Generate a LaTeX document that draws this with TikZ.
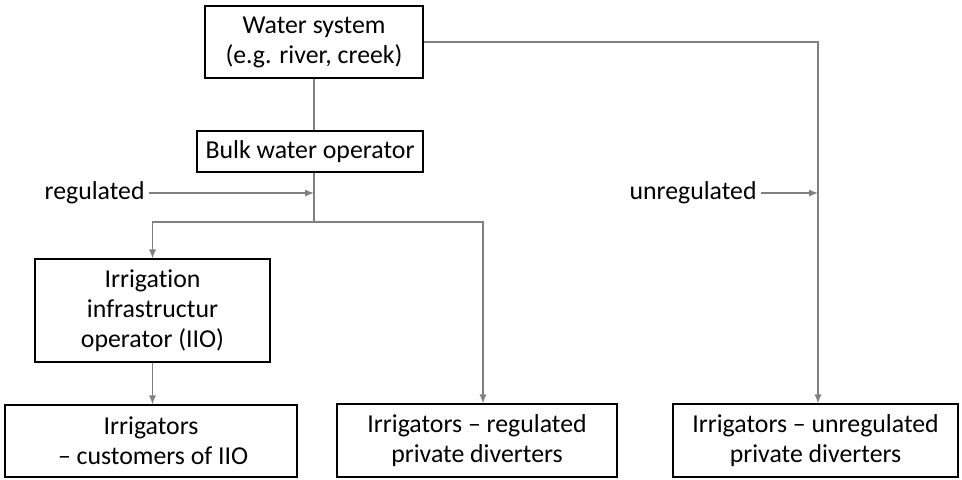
\documentclass[tikz,border=0pt]{standalone}
\usepackage{fontspec}
\setmainfont{Carlito}[Ligatures=CommonOff]
\usetikzlibrary{arrows.meta,positioning,calc}

\definecolor{linegray}{RGB}{128,128,128}

\tikzset{
  box/.style={
    draw=black,
    line width=0.65pt,
    rectangle,
    align=center,
    inner sep=2pt,
    font=\fontsize{12.9}{15}\selectfont
  },
  line/.style={draw=linegray, line width=0.7pt},
  arr/.style={line, -{Latex[length=4.5pt,width=3.6pt]}},
  lab/.style={inner sep=2pt, font=\fontsize{12.9}{15}\selectfont}
}

\begin{document}
\begin{tikzpicture}[x=0.5pt,y=-0.5pt]

  \useasboundingbox (0,0) rectangle (962,479);

  % Boxes
  \node (water) [box, minimum width=109pt, minimum height=36pt] at (314,42)
    {Water system\\(e.g. river, creek)};
  \node (bulk) [box, minimum width=113pt, minimum height=20.5pt] at (310,151.5)
    {Bulk water operator};
  \node (iio) [box, minimum width=117.5pt, minimum height=51.5pt] at (152.5,310.5)
    {Irrigation\\infrastructur\\operator (IIO)};
  \node (cust) [box, minimum width=146pt, minimum height=36pt] at (151,441)
    {Irrigators\\\,-- customers of IIO};
  \node (reg) [box, minimum width=140pt, minimum height=36.5pt] at (477,440.5)
    {Irrigators -- regulated\\private diverters};
  \node (unreg) [box, minimum width=142.5pt, minimum height=36.5pt] at (815.5,440.5)
    {Irrigators -- unregulated\\private diverters};

  % Branch point below the bulk operator
  \coordinate (split) at (314,222);

  % Connectors
  \draw [line] (water.south) -- (water.south |- bulk.north);
  \draw [line] (split |- bulk.south) -- (split);
  \draw [arr] (split) -| (iio.north);
  \draw [arr] (split) -| ([xshift=3pt]reg.north);
  \draw [arr] (water.east) -| ([xshift=1.25pt]unreg.north);
  \draw [arr] (iio.south) -- (iio.south |- cust.north);

  % Labels
  \node (reglab) [lab, anchor=east] at (149,193) {regulated};
  \draw [arr] (reglab.east) -- (split |- reglab.east);

  \node (unreglab) [lab, anchor=east] at (761,193) {unregulated};
  \draw [arr] (unreglab.east) -- ([xshift=1.25pt]unreg.north |- unreglab.east);

\end{tikzpicture}
\end{document}
